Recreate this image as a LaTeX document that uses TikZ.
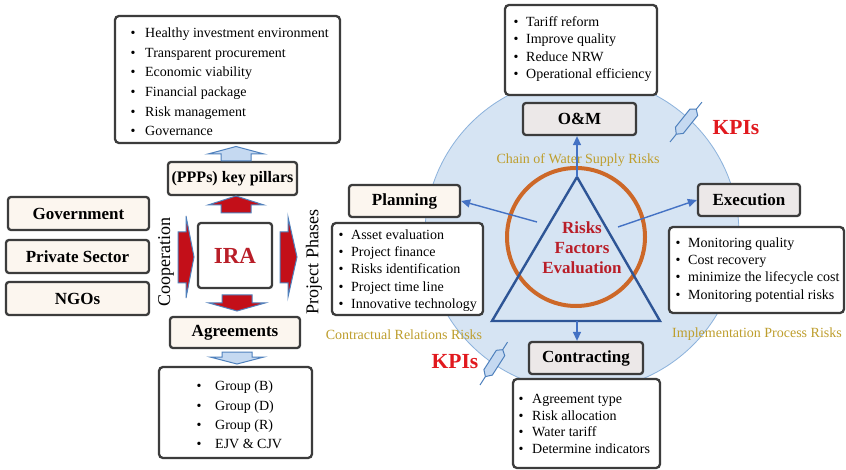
\documentclass[tikz,border=0pt]{standalone}
\usepackage{fontspec}
\setmainfont{Liberation Serif}
\usetikzlibrary{arrows.meta}
\definecolor{boxline}{RGB}{60,60,60}
\definecolor{beige}{RGB}{252,246,239}
\definecolor{grayfill}{RGB}{236,232,232}
\definecolor{circfill}{RGB}{214,228,243}
\definecolor{circline}{RGB}{140,178,220}
\definecolor{orangering}{RGB}{205,104,40}
\definecolor{tridark}{RGB}{46,85,150}
\definecolor{connblue}{RGB}{68,114,196}
\definecolor{goldtxt}{RGB}{190,158,45}
\definecolor{kpired}{RGB}{225,25,30}
\definecolor{darkred}{RGB}{185,30,40}
\definecolor{arrred}{RGB}{195,15,25}
\definecolor{arrblue}{RGB}{79,129,189}
\definecolor{arrfill}{RGB}{197,217,241}
\newcommand{\mybul}[1][12.5pt]{\makebox[#1][l]{\textbullet}}
\begin{document}
\begin{tikzpicture}[x=1pt,y=-1pt,
  listbox/.style={draw=boxline, line width=2.3pt, rounded corners=4pt, fill=white, inner sep=0pt},
  lbl/.style={draw=boxline, line width=2.3pt, rounded corners=3pt, inner sep=0pt, fill=beige, font=\fontsize{17}{20}\selectfont\bfseries},
  lblg/.style={lbl, fill=grayfill},
  listtxt/.style={align=left, inner sep=0pt, anchor=west},
  conn/.style={draw=connblue, line width=1.4pt, -{Triangle[length=9pt,width=8pt]}},
  blkblue/.style={draw=arrblue, line width=1pt, fill=arrfill},
  blkred/.style={draw=arrblue, line width=1pt, fill=arrred},
  goldlabel/.style={text=goldtxt, font=\fontsize{14}{16}\selectfont, inner sep=0pt},
  kpilabel/.style={text=kpired, font=\fontsize{21.5}{24}\selectfont\bfseries, inner sep=0pt},
  rottxt/.style={rotate=90, font=\fontsize{18}{20}\selectfont, inner sep=0pt},
  kpiarrow/.pic={
    \draw[arrblue, line width=1pt] (0,0) -- (10,0);
    \draw[arrblue, line width=1pt, fill=arrfill] (10,0) -- (15,-5) -- (38,-5) -- (42,0) -- (38,5) -- (15,5) -- cycle;
    \draw[arrblue, line width=1pt] (42,0) -- (51,0);
  }
]
\useasboundingbox (0,0) rectangle (846,470);
\fill[white] (0,0) rectangle (846,470);

% big circle
\node[circle, draw=circline, line width=0.8pt, fill=circfill, minimum size=314pt, inner sep=0pt] (bigc) at (582,234) {};
% orange ring
\node[circle, draw=orangering, line width=4pt, minimum size=138pt, inner sep=0pt] (ring) at (576,237) {};
% triangle
\coordinate (apex) at (577,177);
\coordinate (tbl) at (492,321);
\coordinate (tbr) at (660,321);
\coordinate (basemid) at (577,321);
\draw[draw=tridark, line width=2.4pt, line join=miter] (apex) -- (tbl) -- (tbr) -- cycle;

\node[text=darkred, font=\fontsize{17}{20}\selectfont\bfseries, align=center, inner sep=0pt] (rfe) at (582,248) {Risks\\Factors\\Evaluation};

% gold labels
\node[goldlabel] (chain) at (578,160) {Chain of Water Supply Risks};
\node[goldlabel] (contr) at (404,335) {Contractual Relations Risks};
\node[goldlabel] (impl) at (757,334) {Implementation Process Risks};

% KPIs
\node[kpilabel] (kpi1) at (736,128) {KPIs};
\node[kpilabel] (kpi2) at (455,362) {KPIs};
\pic[rotate=51.3] at (670,142) {kpiarrow};
\pic[rotate=57.3] at (480,385) {kpiarrow};

% label boxes right side
\node[lbl, minimum width=111pt, minimum height=32pt] (plan) at (404.5,201) {Planning};
\node[lblg, minimum width=113pt, minimum height=32pt] (om) at (579.5,119) {O\&M};
\node[lblg, minimum width=102pt, minimum height=32pt] (exe) at (749,200) {Execution};
\node[lblg, minimum width=114pt, minimum height=32pt] (con) at (586,358) {Contracting};

% connectors
\coordinate (cpl) at (537,222);
\coordinate (cex) at (618,227);
\draw[conn] (apex) -- (apex |- om.south);
\draw[conn] (cpl) -- (plan.east);
\draw[conn] (cex) -- (exe.west);
\draw[conn] (basemid) -- (basemid |- con.north);

% list boxes
\node[listbox, minimum width=225pt, minimum height=127pt] (tl) at (227.5,79.5) {};
\node[listbox, minimum width=152pt, minimum height=90pt] (tar) at (581,50) {};
\node[listbox, minimum width=151pt, minimum height=92pt] (pll) at (407.5,269) {};
\node[listbox, minimum width=175pt, minimum height=86pt] (exl) at (756.5,270) {};
\node[listbox, minimum width=147pt, minimum height=89pt] (col) at (586.5,423.5) {};
\node[listbox, minimum width=153pt, minimum height=91pt] (bl) at (235.5,412.5) {};

\node[listtxt, font=\fontsize{14}{19.6}\selectfont] (tlt) at (130.5,82) {\mybul[14.5pt]Healthy investment environment\\\mybul[14.5pt]Transparent procurement\\\mybul[14.5pt]Economic viability\\\mybul[14.5pt]Financial package\\\mybul[14.5pt]Risk management\\\mybul[14.5pt]Governance};
\node[listtxt, font=\fontsize{14}{17.3}\selectfont] (tart) at (513.5,49) {\mybul Tariff reform\\\mybul Improve quality\\\mybul Reduce NRW\\\mybul Operational efficiency};
\node[listtxt, font=\fontsize{14}{17.25}\selectfont] (pllt) at (338.5,270.5) {\mybul Asset evaluation\\\mybul Project finance\\\mybul Risks identification\\\mybul Project time line\\\mybul Innovative technology};
\node[listtxt, font=\fontsize{14}{17.3}\selectfont] (exlt) at (675.5,270) {\mybul Monitoring quality\\\mybul Cost recovery\\\mybul minimize the lifecycle cost\\\mybul Monitoring potential risks};
\node[listtxt, font=\fontsize{14}{16.8}\selectfont] (colt) at (518.5,424) {\mybul[13.5pt]Agreement type\\\mybul[13.5pt]Risk allocation\\\mybul[13.5pt]Water tariff\\\mybul[13.5pt]Determine indicators};
\node[listtxt, font=\fontsize{14}{19.3}\selectfont] (blt) at (196.5,415) {\mybul[18.5pt]Group (B)\\\mybul[18.5pt]Group (D)\\\mybul[18.5pt]Group (R)\\\mybul[18.5pt]EJV \& CJV};

% left label boxes
\node[lbl, font=\fontsize{16}{19}\selectfont\bfseries, minimum width=129pt, minimum height=33pt] (pil) at (232.5,178.5) {(PPPs) key pillars};
\node[lbl, minimum width=141pt, minimum height=33pt] (gov) at (78.5,213.5) {Government};
\node[lbl, minimum width=143pt, minimum height=33pt] (ps) at (77.5,256.5) {Private Sector};
\node[lbl, minimum width=143pt, minimum height=33pt] (ngo) at (77.5,298.5) {NGOs};
\node[lbl, fill=white, minimum width=74pt, minimum height=65pt, text=darkred, font=\fontsize{23}{26}\selectfont\bfseries] (ira) at (235,255.5) {IRA};
\node[lbl, minimum width=130pt, minimum height=31pt] (agr) at (235,332.5) {Agreements};

% rotated labels
\node[rottxt] (coop) at (166,262) {Cooperation};
\node[rottxt] (phase) at (314,262) {Project Phases};

% block arrows
\draw[blkblue] (221,161) -- (221,154) -- (208,154) -- (236,146.5) -- (264,154) -- (251,154) -- (251,161) -- cycle;
\draw[blkred] (221,213) -- (221,205) -- (208,205) -- (236,196) -- (264,205) -- (251,205) -- (251,213) -- cycle;
\draw[blkred] (222,295) -- (252,295) -- (252,303) -- (265,303) -- (237,311) -- (209,303) -- (222,303) -- cycle;
\draw[blkblue] (222,352) -- (252,352) -- (252,357) -- (264,357) -- (237,364) -- (210,357) -- (222,357) -- cycle;
\draw[blkred] (178,232) -- (186,232) -- (186,216) -- (194,257) -- (186,298) -- (186,283) -- (178,283) -- cycle;
\draw[blkred] (280,232) -- (288,232) -- (288,217) -- (297,257) -- (288,297) -- (288,283) -- (280,283) -- cycle;
\end{tikzpicture}
\end{document}
